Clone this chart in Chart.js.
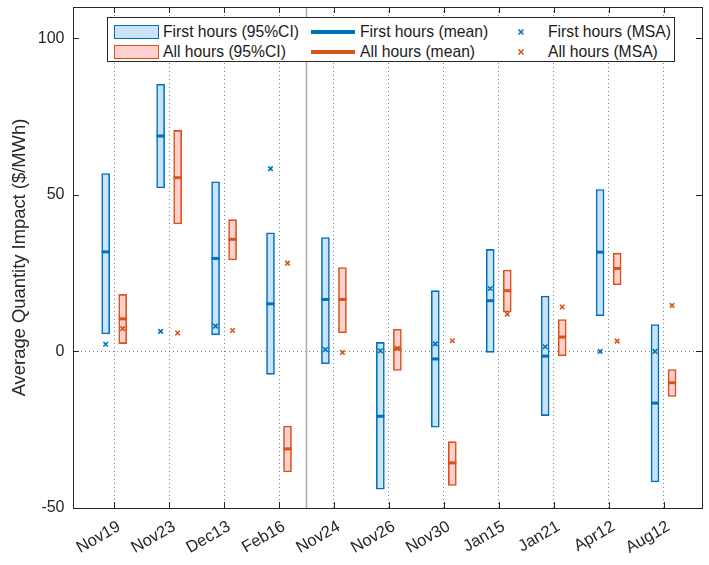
<!DOCTYPE html>
<html>
<head>
<meta charset="utf-8">
<script src="https://cdn.jsdelivr.net/npm/chart.js@4.4.1/dist/chart.umd.min.js"></script>
<style>
  html, body { margin: 0; padding: 0; background: #fff; }
  #wrap { position: relative; width: 709px; height: 565px; }
  #legend { position: absolute; left: 107px; top: 17px; width: 568px; height: 45px; box-sizing: border-box;
            border: 1px solid #262626; background: #fff; font-family: "Liberation Sans", Arial, sans-serif;
            font-size: 15.7px; color: #1a1a1a; }
  .lg-item { position: absolute; white-space: nowrap; line-height: 1; }
</style>
</head>
<body>
<div id="wrap">
  <canvas id="c" width="709" height="565"></canvas>
  <div id="legend"></div>
</div>
<script>
// ---- data ----
const categories = ['Nov19','Nov23','Dec13','Feb16','Nov24','Nov26','Nov30','Jan15','Jan21','Apr12','Aug12'];
const firstLow  = [5.6, 52.2, 5.3, -7.3, -3.9, -44.0, -24.2, -0.3, -20.5, 11.4, -41.7];
const firstHigh = [56.8, 85.3, 54.2, 37.9, 36.4, 2.9, 19.4, 32.6, 17.7, 51.7, 8.6];
const firstMean = [31.8, 68.8, 29.7, 15.2, 16.6, -20.7, -2.4, 16.2, -1.5, 31.7, -16.5];
const firstMSA  = [2.3, 6.4, 8.1, 58.4, 0.6, 0.2, 2.4, 20.1, 1.5, 0.0, 0.0];
const allLow    = [2.5, 40.7, 29.2, -38.5, 6.0, -6.1, -42.8, 12.6, -1.4, 21.3, -14.4];
const allHigh   = [18.2, 70.6, 42.1, -23.8, 26.8, 7.1, -28.8, 26.0, 10.2, 31.4, -5.8];
const allMean   = [10.4, 55.5, 35.8, -31.1, 16.6, 0.8, -35.6, 19.4, 4.6, 26.5, -10.0];
const allMSA    = [7.3, 5.9, 6.7, 28.2, -0.3, 1.0, 3.4, 11.9, 14.2, 3.3, 14.7];
const yTicks = [-50, 0, 50, 100];
const separatorAt = 4.5;   // between Feb16 and Nov24
const yRange = [-50, 110];

// ---- styling ----
const BLUE = '#0072BD', ORANGE = '#D95319';
const BLUE_FILL = '#c9e3fb', ORANGE_FILL = '#ffd0d0';
const AX = '#262626';
const FONT = '"Liberation Sans", Arial, sans-serif';
const OFF = 0.155;

const pts = (vals, dx) => vals.map((v, i) => ({x: i + 1 + dx, y: v}));
const rng = (lo, hi, dx) => lo.map((v, i) => ({x: i + 1 + dx, y: [v, hi[i]]}));

const datasets = [
  {type:'scatter', label:'First hours (MSA)', data: pts(firstMSA, -OFF), order:0,
   pointStyle:'crossRot', radius:3.2, borderWidth:1.6, borderColor:BLUE, backgroundColor:BLUE},
  {type:'scatter', label:'All hours (MSA)', data: pts(allMSA, OFF), order:0,
   pointStyle:'crossRot', radius:3.2, borderWidth:1.6, borderColor:ORANGE, backgroundColor:ORANGE},
  {type:'scatter', label:'First hours (mean)', data: pts(firstMean, -OFF), order:1,
   pointStyle:'line', radius:4, borderWidth:3, borderColor:BLUE, backgroundColor:BLUE},
  {type:'scatter', label:'All hours (mean)', data: pts(allMean, OFF), order:1,
   pointStyle:'line', radius:4, borderWidth:3, borderColor:ORANGE, backgroundColor:ORANGE},
  {type:'bar', label:'First hours (95%CI)', data: rng(firstLow, firstHigh, -OFF), order:2,
   backgroundColor:BLUE_FILL, borderColor:BLUE, borderWidth:1.6, borderSkipped:false, barThickness:8, grouped:false},
  {type:'bar', label:'All hours (95%CI)', data: rng(allLow, allHigh, OFF), order:2,
   backgroundColor:ORANGE_FILL, borderColor:ORANGE, borderWidth:1.6, borderSkipped:false, barThickness:8, grouped:false},
  {type:'line', label:'_sep', data:[{x:separatorAt, y:yRange[0]}, {x:separatorAt, y:yRange[1]}], order:3,
   borderColor:'#ababab', borderWidth:1.5, pointRadius:0, fill:false}
];

const frame = {
  id: 'frame',
  afterDatasetsDraw(chart) {
    const {ctx, chartArea: a, scales: {x, y}} = chart;
    ctx.save();
    ctx.strokeStyle = AX; ctx.lineWidth = 1;
    ctx.beginPath();
    const L = 6;
    x.ticks.forEach(t => {
      const px = Math.round(x.getPixelForValue(t.value)) + 0.5;
      ctx.moveTo(px, a.bottom); ctx.lineTo(px, a.bottom - L);
      ctx.moveTo(px, a.top); ctx.lineTo(px, a.top + L);
    });
    y.ticks.forEach(t => {
      const py = Math.round(y.getPixelForValue(t.value)) + 0.5;
      ctx.moveTo(a.left, py); ctx.lineTo(a.left + L, py);
      ctx.moveTo(a.right, py); ctx.lineTo(a.right - L, py);
    });
    ctx.stroke();
    ctx.strokeRect(Math.round(a.left) + 0.5, Math.round(a.top) + 0.5,
                   Math.round(a.right - a.left), Math.round(a.bottom - a.top));
    ctx.restore();
  }
};

const chart = new Chart(document.getElementById('c'), {
  type: 'bar',
  data: { datasets },
  plugins: [frame],
  options: {
    responsive: false, animation: false, devicePixelRatio: 1,
    layout: { padding: { top: 6, right: 3, left: 0, bottom: 0 } },
    plugins: { legend: { display: false }, tooltip: { enabled: false } },
    scales: {
      x: {
        type: 'linear', min: 0.25, max: 11.7, offset: false,
        afterBuildTicks: s => { s.ticks = categories.map((_, i) => ({value: i + 1})); },
        afterFit: s => { s.height = 57; s.paddingLeft = 0; s.paddingRight = 0; },
        ticks: { autoSkip: false, maxRotation: 30, minRotation: 30, padding: 9, labelOffset: 5,
                 color: AX, font: { family: FONT, size: 16.5 },
                 callback: v => categories[v - 1] },
        grid: { offset: false, color: 'rgba(90,90,90,0.75)', lineWidth: 1, drawTicks: false },
        border: { display: false, dash: [1, 3] }
      },
      y: {
        min: yRange[0], max: yRange[1],
        afterBuildTicks: s => { s.ticks = yTicks.map(v => ({value: v})); },
        afterFit: s => { s.width = 73; s.paddingTop = 0; s.paddingBottom = 0; },
        ticks: { padding: 8.5, color: AX, font: { family: FONT, size: 16 } },
        grid: { color: c => (c.tick && c.tick.value === 0) ? 'rgba(90,90,90,0.75)' : 'rgba(0,0,0,0)',
                lineWidth: 1, drawTicks: false },
        border: { display: false, dash: [1, 3] },
        title: { display: true, text: 'Average Quantity Impact ($/MWh)', color: AX,
                 font: { family: FONT, size: 18.4 }, padding: { top: 9, bottom: 0 } }
      }
    }
  }
});

// ---- HTML legend built from the dataset labels ----
const lg = document.getElementById('legend');
const byLabel = l => datasets.find(d => d.label === l);
const cols = [
  {kind:'patch', labels:['First hours (95%CI)','All hours (95%CI)'], icon:6, text:55},
  {kind:'line',  labels:['First hours (mean)','All hours (mean)'], icon:203, text:252},
  {kind:'mark',  labels:['First hours (MSA)','All hours (MSA)'], icon:413, text:440}
];
const rowsY = [13.5, 34];
cols.forEach(col => col.labels.forEach((lab, r) => {
  const ds = byLabel(lab);
  const cy = rowsY[r];
  let icon;
  if (col.kind === 'patch') {
    icon = document.createElement('div');
    icon.style.cssText = `position:absolute;left:${col.icon}px;top:${cy-7}px;width:45px;height:14px;box-sizing:border-box;border:1.6px solid ${ds.borderColor};background:${ds.backgroundColor};`;
  } else if (col.kind === 'line') {
    icon = document.createElement('div');
    icon.style.cssText = `position:absolute;left:${col.icon}px;top:${cy-2}px;width:44px;height:4px;background:${ds.borderColor};`;
  } else {
    icon = document.createElementNS('http://www.w3.org/2000/svg','svg');
    icon.setAttribute('width','8'); icon.setAttribute('height','8');
    icon.style.cssText = `position:absolute;left:${col.icon-4}px;top:${cy-4}px;`;
    icon.innerHTML = `<path d="M1.5 1.5 L6.5 6.5 M6.5 1.5 L1.5 6.5" stroke="${ds.borderColor}" stroke-width="1.6"/>`;
  }
  lg.appendChild(icon);
  const t = document.createElement('div');
  t.className = 'lg-item';
  t.textContent = lab;
  t.style.left = col.text + 'px';
  t.style.top = (cy - 8) + 'px';
  lg.appendChild(t);
}));
</script>
</body>
</html>
